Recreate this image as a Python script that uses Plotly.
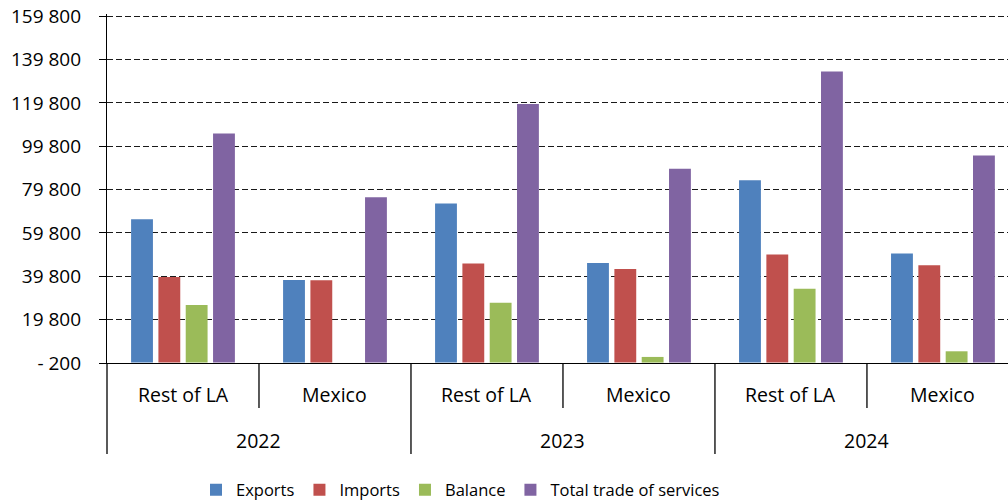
import plotly.graph_objects as go

# Services trade by partner region and year
years = ["2022", "2023", "2024"]
regions = ["Rest of LA", "Mexico"]

exports = [66100, 38100, 73400, 45900, 84100, 50300]
imports = [39500, 38000, 45700, 43200, 49900, 44900]
balance = [26500, 0, 27600, 2600, 34100, 5200]
total_trade = [105700, 76300, 119300, 89400, 134300, 95500]

series_names = ["Exports", "Imports", "Balance", "Total trade of services"]
series_colors = ["#4F81BD", "#C0504D", "#9BBB59", "#8064A2"]

tick_vals = [-200, 19800, 39800, 59800, 79800, 99800, 119800, 139800, 159800]
tick_text = ["- 200", "19 800", "39 800", "59 800", "79 800", "99 800",
             "119 800", "139 800", "159 800"]

categories = [f"{y} {r}" for y in years for r in regions]

FONT = "Open Sans"
W, H = 1008, 502
M_L, M_R, M_T, M_B = 107, 0, 14, 139
X_RANGE = [-0.5, 5.428]
Y_RANGE = [-200, 160800]

fig = go.Figure()
for name, color, vals in zip(series_names, series_colors,
                             [exports, imports, balance, total_trade]):
    fig.add_trace(go.Bar(x=categories, y=vals, name=name,
                         marker=dict(color=color, line=dict(width=0))))

plot_h = H - M_T - M_B


def py(px):
    """Paper y for a pixel row measured from the top of the page."""
    return (H - M_B - px) / plot_h


def xdom(i):
    return (i - X_RANGE[0]) / (X_RANGE[1] - X_RANGE[0])


shapes = []
annotations = []
# group separators below the axis
for k in range(len(years) * len(regions) + 1):
    i = k - 0.5
    if i > X_RANGE[1]:
        continue
    outer = (k % len(regions) == 0)
    shapes.append(dict(type="line", xref="x domain", yref="paper",
                       x0=xdom(i), x1=xdom(i), y0=0,
                       y1=py(454) if outer else py(408),
                       line=dict(color="#000000", width=1.3)))

for idx, cat in enumerate(categories):
    annotations.append(dict(x=idx, y=py(394), xref="x", yref="paper",
                            text=regions[idx % len(regions)], showarrow=False,
                            font=dict(family=FONT, size=19.5, color="#000000"),
                            xanchor="center", yanchor="middle"))
for j, yr in enumerate(years):
    annotations.append(dict(x=j * 2 + 0.5, y=py(440), xref="x", yref="paper",
                            text=yr, showarrow=False,
                            font=dict(family=FONT, size=19.5, color="#000000"),
                            xanchor="center", yanchor="middle"))

fig.update_layout(
    width=W, height=H,
    margin=dict(l=M_L, r=M_R, t=M_T, b=M_B, pad=0, autoexpand=False),
    paper_bgcolor="white", plot_bgcolor="white",
    barmode="group", bargap=0.281, bargroupgap=0.2,
    font=dict(family=FONT, color="#000000"),
    shapes=shapes, annotations=annotations,
    legend=dict(orientation="h", x=(196 - M_L) / (W - M_L - M_R), xanchor="left",
                y=py(490), yanchor="middle",
                font=dict(family=FONT, size=16.5, color="#000000"),
                bgcolor="rgba(0,0,0,0)"),
    xaxis=dict(range=X_RANGE, showticklabels=False, ticks="",
               showgrid=False, zeroline=False,
               showline=True, linecolor="#000000", linewidth=1.3),
    yaxis=dict(range=Y_RANGE, tickvals=tick_vals, ticktext=tick_text,
               ticks="outside", ticklen=7, tickcolor="#000000", tickwidth=1,
               ticklabelstandoff=14,
               tickfont=dict(family=FONT, size=19, color="#000000"),
               showgrid=True, gridcolor="#1a1a1a", gridwidth=1,
               griddash="6px,3px",
               zeroline=False, showline=True, linecolor="#000000",
               linewidth=1.3),
)

fig.write_html("out.html")
